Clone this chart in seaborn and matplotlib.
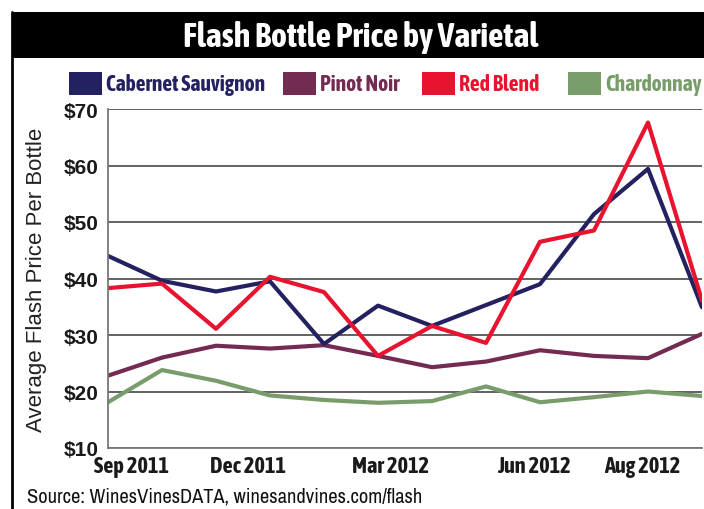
import pandas as pd
import matplotlib.pyplot as plt
import matplotlib.font_manager as fm
import seaborn as sns
from matplotlib.patches import Rectangle
from matplotlib.lines import Line2D

# Data
months = ["Sep 2011", "Oct 2011", "Nov 2011", "Dec 2011", "Jan 2012", "Feb 2012",
          "Mar 2012", "Apr 2012", "May 2012", "Jun 2012", "Jul 2012", "Aug 2012"]
cabernet = [44.0, 39.6, 37.7, 39.5, 28.4, 35.2, 31.6, 35.3, 39.0, 51.4, 59.4, 34.9]
pinot = [22.8, 26.0, 28.1, 27.6, 28.2, 26.3, 24.3, 25.3, 27.3, 26.3, 25.9, 30.2]
red_blend = [38.3, 39.1, 31.1, 40.3, 37.6, 26.3, 31.6, 28.6, 46.5, 48.5, 67.6, 36.1]
chardonnay = [18.1, 23.8, 21.9, 19.3, 18.5, 18.0, 18.3, 20.9, 18.1, 19.0, 20.0, 19.2]
varietals = ["Cabernet Sauvignon", "Pinot Noir", "Red Blend", "Chardonnay"]
tick_labels = ["Sep 2011", "Dec 2011", "Mar 2012", "Jun 2012", "Aug 2012"]
y_ticks = [10, 20, 30, 40, 50, 60, 70]

colors = {"Cabernet Sauvignon": "#23215f", "Pinot Noir": "#732b52",
          "Red Blend": "#e8132e", "Chardonnay": "#789d6b"}

df = pd.DataFrame({
    "idx": list(range(len(months))) * 4,
    "price": cabernet + pinot + red_blend + chardonnay,
    "varietal": [v for v in varietals for _ in months],
})

sns.set_style("white")


def weight_of(f):
    w = f.weight
    if isinstance(w, str):
        w = fm.weight_dict.get(w, 400)
    return w


def narrow_font(bold):
    # the original uses a condensed grotesque; find the closest one installed
    ok = (lambda f: weight_of(f) >= 600) if bold else (lambda f: weight_of(f) < 600)
    for f in fm.fontManager.ttflist:
        if ("Narrow" in f.name or "Condensed" in f.name) and ok(f):
            return dict(family=[f.name, "DejaVu Sans"], fontstretch="normal")
    for f in fm.fontManager.ttflist:
        if f.name == "DejaVu Sans" and f.stretch in ("condensed", "semi-condensed") and ok(f):
            return dict(family=["DejaVu Sans"], fontstretch="condensed")
    for f in fm.fontManager.ttflist:
        if "Narrow" in f.name or "Condensed" in f.name:
            return dict(family=[f.name, "DejaVu Sans"], fontstretch="normal")
    return dict(family=["DejaVu Sans"], fontstretch="normal")


nb = narrow_font(True)
nr = narrow_font(False)
plt.rcParams["font.family"] = ["Liberation Sans", "DejaVu Sans"]

fig = plt.figure(figsize=(7.04, 5.10), dpi=100)
W, H = 704, 510

# frame + title bar
fig.patches.append(Rectangle((12 / W, 1 - 59 / H), 1, 46 / H, transform=fig.transFigure,
                             facecolor="black", edgecolor="none"))
fig.lines.append(Line2D([12 / W, 12 / W], [0, 1 - 13 / H], transform=fig.transFigure,
                        color="black", lw=2))
fig.text(361 / W, 1 - 37 / H, "Flash Bottle Price by Varietal", color="white",
         fontsize=24.5, fontweight="bold", ha="center", va="center", **nb)

# legend row
legend_x = [69, 283, 422, 568]
for v, x0 in zip(varietals, legend_x):
    fig.patches.append(Rectangle((x0 / W, 1 - 96 / H), 33 / W, 23 / H,
                                 transform=fig.transFigure, facecolor=colors[v],
                                 edgecolor="none"))
    fig.text((x0 + 37) / W, 1 - 85 / H, v, color=colors[v], fontsize=15.5,
             fontweight="bold", ha="left", va="center", **nb)

ax = fig.add_axes([108 / W, 1 - 449 / H, 594 / W, 339 / H])
sns.lineplot(data=df, x="idx", y="price", hue="varietal", palette=colors,
             hue_order=["Chardonnay", "Pinot Noir", "Cabernet Sauvignon", "Red Blend"],
             linewidth=3.0, legend=False, ax=ax)

ax.set_xlim(0, 11)
ax.set_ylim(10, 70)
ax.set_yticks(y_ticks)
ax.set_yticklabels([f"${t}" for t in y_ticks], fontsize=15, fontweight="bold",
                   color="#1a1a1a")
ax.set_xticks([0.43, 2.6, 5.24, 7.89, 9.9])
ax.set_xticklabels(tick_labels, fontsize=16, fontweight="bold", color="#1a1a1a", **nb)
ax.tick_params(axis="y", length=0, pad=7)
ax.tick_params(axis="x", length=0, pad=5)
ax.grid(axis="y", color="#555555", lw=1.3)
ax.set_axisbelow(True)
for s in ["top", "right"]:
    ax.spines[s].set_visible(False)
for s in ["left", "bottom"]:
    ax.spines[s].set_color("#777777")
    ax.spines[s].set_linewidth(1.3)
ax.set_xlabel("")
ax.set_ylabel("Average Flash Price Per Bottle", fontsize=16, color="#222222",
              labelpad=12)

fig.text(27 / W, 1 - 497 / H, "Source: WinesVinesDATA, winesandvines.com/flash",
         fontsize=14.7, ha="left", va="center", color="#111111", **nr)

fig.savefig("out.png", dpi=100)
